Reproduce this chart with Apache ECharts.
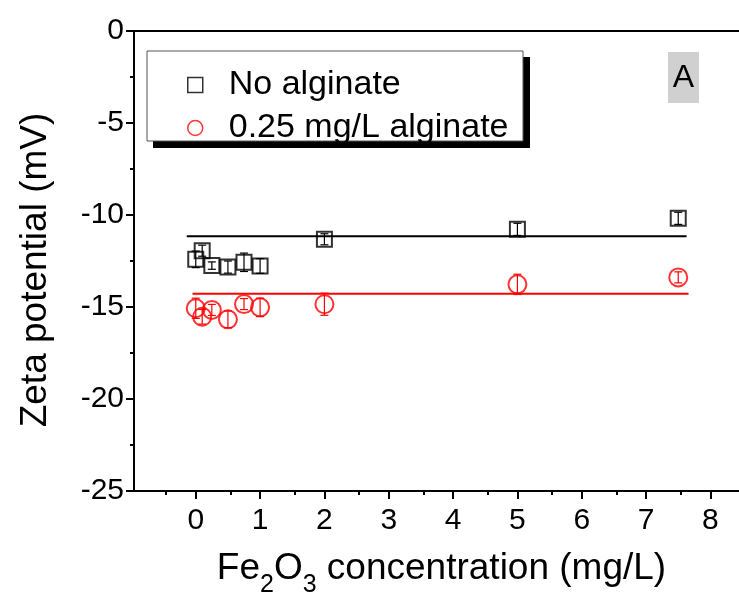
<!DOCTYPE html>
<html>
<head>
<meta charset="utf-8">
<script src="https://cdn.jsdelivr.net/npm/echarts@6/dist/echarts.min.js"></script>
<style>
  html, body { margin: 0; padding: 0; background: #fff; }
  #chart { width: 739px; height: 597px; }
</style>
</head>
<body>
<div id="chart"></div>
<script>
// Fe2O3 concentration (mg/L)
const concX = [0, 0.1, 0.25, 0.5, 0.75, 1, 2, 5, 7.5];
// zeta potential, no alginate
const noAlg = [-12.41, -11.94, -12.75, -12.83, -12.57, -12.77, -11.32, -10.78, -10.18];
const noAlgErr = [0.45, 0.3, 0.2, 0.33, 0.5, 0.4, 0.3, 0.33, 0.33];
// zeta potential, 0.25 mg/L alginate
const alg = [-15.07, -15.53, -15.16, -15.67, -14.84, -15.02, -14.85, -13.77, -13.39];
const algErr = [0.55, 0.4, 0.3, 0.45, 0.3, 0.5, 0.6, 0.55, 0.3];
// mean lines
const noAlgLineX = [-0.14, 7.63];
const noAlgLineY = [-11.15, -11.15];
const algLineX = [-0.05, 7.66];
const algLineY = [-14.28, -14.28];

const xTicks = [0, 1, 2, 3, 4, 5, 6, 7, 8];
const yTicks = [-25, -20, -15, -10, -5, 0];

const font = "Liberation Sans";

function pairs(xs, ys, es) {
  return xs.map((x, i) => es ? [x, ys[i], es[i]] : [x, ys[i]]);
}

function errorBars(color) {
  return function (params, api) {
    const x = api.value(0), y = api.value(1), e = api.value(2);
    const top = api.coord([x, y + e]);
    const bot = api.coord([x, y - e]);
    const hw = 4;
    const style = { stroke: color, lineWidth: 1.2 };
    return {
      type: "group",
      children: [
        { type: "line", shape: { x1: top[0], y1: top[1], x2: bot[0], y2: bot[1] }, style: style },
        { type: "line", shape: { x1: top[0] - hw, y1: top[1], x2: top[0] + hw, y2: top[1] }, style: style },
        { type: "line", shape: { x1: bot[0] - hw, y1: bot[1], x2: bot[0] + hw, y2: bot[1] }, style: style },
      ],
    };
  };
}

const chart = echarts.init(document.getElementById("chart"));

chart.setOption({
  animation: false,
  grid: {
    left: 134,
    top: 31,
    width: 615,
    height: 460,
    outerBoundsMode: "none",
    show: true,
    borderColor: "#000",
    borderWidth: 2,
    backgroundColor: "transparent",
  },
  legend: {
    orient: "vertical",
    left: 147,
    top: 52,
    padding: [16, 12, 1, 40],
    itemGap: 9,
    itemWidth: 15,
    itemHeight: 15,
    textStyle: {
      fontFamily: font,
      fontSize: 34,
      color: "#000",
      lineHeight: 32,
      padding: [0, 0, 0, 21],
    },
    data: [
      { name: "No alginate", icon: "rect",
        itemStyle: { color: "transparent", borderColor: "#000", borderWidth: 1.5 } },
      { name: "0.25 mg/L alginate", icon: "circle",
        itemStyle: { color: "transparent", borderColor: "#ff0000", borderWidth: 1.5 } },
    ],
  },
  xAxis: {
    type: "value",
    min: -0.96,
    max: 8.6,
    interval: 1,
    splitLine: { show: false },
    axisLine: { onZero: false, lineStyle: { color: "#000", width: 2 } },
    axisTick: { inside: false, length: 8, lineStyle: { color: "#000", width: 2 },
      customValues: xTicks },
    minorTick: { show: true, splitNumber: 2, length: 4, lineStyle: { color: "#000", width: 2 } },
    axisLabel: {
      fontFamily: font, fontSize: 30, color: "#000", margin: 15,
      customValues: xTicks,
    },
    name: "{a|Fe}{s|2}{a|O}{s|3}{a| concentration (mg/L)}",
    nameLocation: "middle",
    nameGap: 48,
    nameTextStyle: {
      rich: {
        a: { fontFamily: font, fontSize: 37, color: "#000" },
        s: { fontFamily: font, fontSize: 25, color: "#000", padding: [34, 0, 0, 0] },
      },
    },
  },
  yAxis: {
    type: "value",
    min: -25,
    max: 0,
    interval: 5,
    splitLine: { show: false },
    axisLine: { onZero: false, lineStyle: { color: "#000", width: 2 } },
    axisTick: { inside: false, length: 8, lineStyle: { color: "#000", width: 2 } },
    minorTick: { show: true, splitNumber: 2, length: 4, lineStyle: { color: "#000", width: 2 } },
    axisLabel: {
      fontFamily: font, fontSize: 30, color: "#000", margin: 10,
      customValues: yTicks,
    },
    name: "Zeta potential (mV)",
    nameLocation: "middle",
    nameGap: 80,
    nameTextStyle: { fontFamily: font, fontSize: 37, color: "#000", padding: [0, 18, 0, 0] },
  },
  graphic: [
    // legend frame with its hard drop shadow
    {
      type: "rect",
      shape: { x: 153, y: 57, width: 377, height: 91 },
      style: { fill: "#000" },
      z: 0,
    },
    {
      type: "rect",
      shape: { x: 147, y: 51, width: 376, height: 90 },
      style: { fill: "#fff", stroke: "#555", lineWidth: 1 },
      z: 1,
    },
    {
      type: "rect",
      shape: { x: 668, y: 52, width: 31, height: 51 },
      style: { fill: "#d0d0d0" },
      z: 10,
    },
    {
      type: "text",
      x: 683.5,
      y: 78,
      style: {
        text: "A", fontFamily: font, fontSize: 32, fill: "#000",
        align: "center", verticalAlign: "middle",
      },
      z: 11,
    },
  ],
  series: [
    {
      type: "line",
      data: pairs(noAlgLineX, noAlgLineY),
      symbol: "none",
      lineStyle: { color: "#000", width: 2 },
      z: 1,
    },
    {
      type: "line",
      data: pairs(algLineX, algLineY),
      symbol: "none",
      lineStyle: { color: "#ff0000", width: 2 },
      z: 1,
    },
    {
      type: "custom",
      renderItem: errorBars("#000"),
      data: pairs(concX, noAlg, noAlgErr),
      z: 2,
    },
    {
      type: "custom",
      renderItem: errorBars("#ff0000"),
      data: pairs(concX, alg, algErr),
      z: 2,
    },
    {
      name: "No alginate",
      type: "scatter",
      symbol: "rect",
      symbolSize: 15,
      data: pairs(concX, noAlg),
      itemStyle: { color: "transparent", borderColor: "#000", borderWidth: 2 },
      z: 3,
    },
    {
      name: "0.25 mg/L alginate",
      type: "scatter",
      symbol: "circle",
      symbolSize: 18,
      data: pairs(concX, alg),
      itemStyle: { color: "transparent", borderColor: "#ff0000", borderWidth: 2 },
      z: 3,
    },
  ],
});
</script>
</body>
</html>
